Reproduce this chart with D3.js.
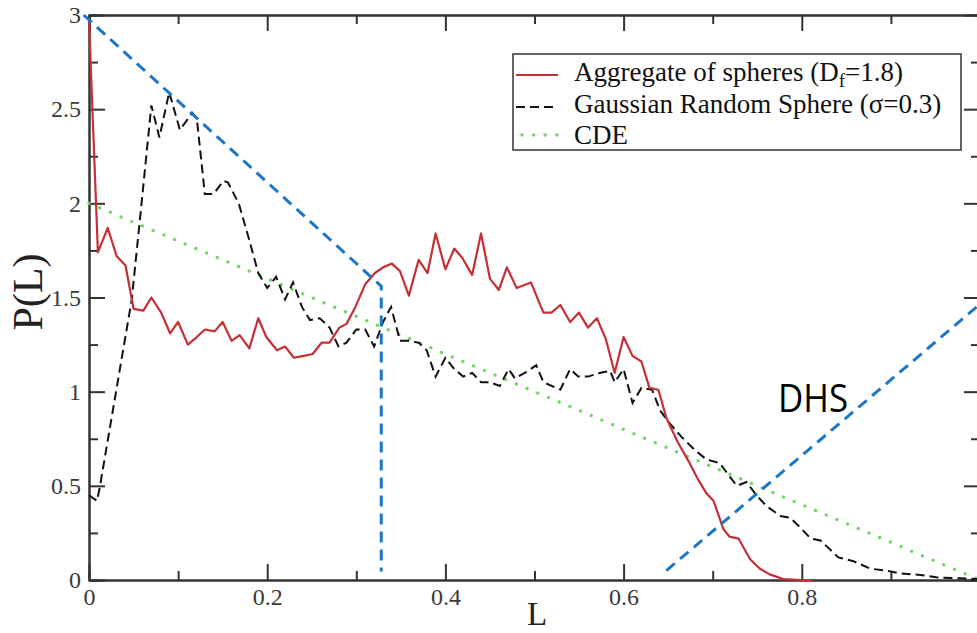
<!DOCTYPE html>
<html>
<head>
<meta charset="utf-8">
<script src="https://cdn.jsdelivr.net/npm/d3@7"></script>
<style>
  body { margin: 0; background: #fff; }
</style>
</head>
<body>
<div id="chart"></div>
<script>
// values: [L, P(L)]
var aggregate = [
  [0.000, 2.97], [0.010, 1.74], [0.021, 1.87], [0.031, 1.72], [0.041, 1.67],
  [0.050, 1.44], [0.061, 1.43], [0.070, 1.50], [0.081, 1.42], [0.091, 1.31],
  [0.100, 1.37], [0.111, 1.25], [0.121, 1.29], [0.130, 1.33], [0.141, 1.32],
  [0.150, 1.37], [0.160, 1.27], [0.169, 1.30], [0.180, 1.23], [0.190, 1.39],
  [0.199, 1.29], [0.211, 1.22], [0.220, 1.24], [0.230, 1.18], [0.241, 1.19],
  [0.251, 1.20], [0.261, 1.26], [0.270, 1.26], [0.281, 1.34], [0.289, 1.36],
  [0.299, 1.45], [0.310, 1.57], [0.321, 1.63], [0.330, 1.66], [0.340, 1.68],
  [0.349, 1.64], [0.359, 1.51], [0.370, 1.70], [0.380, 1.63], [0.389, 1.84],
  [0.400, 1.65], [0.410, 1.76], [0.419, 1.71], [0.430, 1.62], [0.440, 1.84],
  [0.450, 1.60], [0.460, 1.54], [0.469, 1.66], [0.480, 1.55], [0.496, 1.58],
  [0.510, 1.42], [0.519, 1.42], [0.529, 1.46], [0.540, 1.37], [0.550, 1.42],
  [0.560, 1.34], [0.570, 1.39], [0.580, 1.28], [0.590, 1.10], [0.600, 1.29],
  [0.610, 1.19], [0.620, 1.16], [0.629, 1.02], [0.639, 1.01], [0.648, 0.86],
  [0.661, 0.73], [0.673, 0.63], [0.684, 0.53], [0.693, 0.46], [0.701, 0.42],
  [0.712, 0.27], [0.719, 0.23], [0.729, 0.22], [0.742, 0.11], [0.753, 0.06],
  [0.764, 0.03], [0.779, 0.005], [0.800, 0.0], [0.812, 0.0]
];

var gaussian = [
  [0.000, 0.45], [0.009, 0.42], [0.012, 0.49], [0.048, 1.49], [0.059, 2.00],
  [0.070, 2.52], [0.079, 2.35], [0.090, 2.59], [0.102, 2.39], [0.116, 2.48],
  [0.121, 2.45], [0.130, 2.05], [0.140, 2.05], [0.151, 2.12], [0.156, 2.11],
  [0.168, 2.00], [0.179, 1.82], [0.190, 1.63], [0.200, 1.55], [0.210, 1.61],
  [0.220, 1.49], [0.229, 1.58], [0.239, 1.45], [0.248, 1.38], [0.259, 1.39],
  [0.270, 1.34], [0.280, 1.24], [0.289, 1.26], [0.300, 1.33], [0.310, 1.33],
  [0.320, 1.24], [0.330, 1.37], [0.339, 1.45], [0.349, 1.27], [0.358, 1.27],
  [0.370, 1.26], [0.379, 1.22], [0.389, 1.08], [0.400, 1.18], [0.410, 1.12],
  [0.420, 1.08], [0.430, 1.10], [0.440, 1.05], [0.450, 1.05], [0.461, 1.03],
  [0.471, 1.12], [0.478, 1.07], [0.489, 1.10], [0.502, 1.14], [0.510, 1.05],
  [0.529, 1.01], [0.540, 1.12], [0.549, 1.08], [0.560, 1.08], [0.574, 1.10],
  [0.585, 1.11], [0.590, 1.05], [0.600, 1.12], [0.610, 0.94], [0.620, 1.02],
  [0.632, 1.01], [0.641, 0.90], [0.652, 0.83], [0.665, 0.76], [0.680, 0.69],
  [0.693, 0.64], [0.708, 0.62], [0.719, 0.55], [0.727, 0.50], [0.738, 0.52],
  [0.749, 0.45], [0.761, 0.39], [0.776, 0.34], [0.787, 0.33], [0.798, 0.28],
  [0.810, 0.22], [0.821, 0.21], [0.841, 0.12], [0.858, 0.10], [0.877, 0.06],
  [0.895, 0.05], [0.910, 0.035], [0.933, 0.027], [0.951, 0.014], [0.978, 0.009],
  [0.997, 0.005]
];

var cde = [[0.0, 2.0], [0.5, 1.0], [1.0, 0.0]];

// blue hand-drawn guides
var guideLeft = [[-0.006, 3.0], [0.328, 1.56], [0.328, 0.045]];
var guideDHS = [[0.648, 0.05], [1.0, 1.465]];

var xMajor = [0, 0.2, 0.4, 0.6, 0.8, 1.0];
var xMinor = [0.1, 0.3, 0.5, 0.7, 0.9];
var xLabels = ["0", "0.2", "0.4", "0.6", "0.8", ""];
var yMajor = [0, 0.5, 1, 1.5, 2, 2.5, 3];
var yMinor = [0.25, 0.75, 1.25, 1.75, 2.25, 2.75];
var yLabels = ["0", "0.5", "1", "1.5", "2", "2.5", "3"];

var svgWidth = 977;
var svgHeight = 633;
var margin = { top: 15, right: 0, bottom: 53, left: 89 };
var chartWidth = 891;
var chartHeight = svgHeight - margin.top - margin.bottom;

var serif = "'Liberation Serif', 'Times New Roman', serif";

var svg = d3.select("#chart")
  .append("svg")
  .attr("width", svgWidth)
  .attr("height", svgHeight);

var chartGroup = svg.append("g")
  .attr("transform", `translate(${margin.left}, ${margin.top})`);

var xScale = d3.scaleLinear().domain([0, 1]).range([0, chartWidth]);
var yScale = d3.scaleLinear().domain([0, 3]).range([chartHeight, 0]);

var axisColor = "#333";

function styleAxis(g) {
  g.select(".domain").attr("stroke", axisColor).attr("stroke-width", 2);
  g.selectAll(".tick line").attr("stroke", axisColor).attr("stroke-width", 2);
  g.selectAll(".tick text")
    .style("font-family", serif)
    .style("font-size", "24px")
    .attr("fill", "#3a3a3a");
}

// minor ticks
chartGroup.append("g")
  .attr("transform", `translate(0, ${chartHeight})`)
  .call(d3.axisBottom(xScale).tickValues(xMinor).tickSize(-9).tickFormat(""))
  .call(styleAxis);
chartGroup.append("g")
  .call(d3.axisTop(xScale).tickValues(xMinor).tickSize(-9).tickFormat(""))
  .call(styleAxis);
chartGroup.append("g")
  .call(d3.axisLeft(yScale).tickValues(yMinor).tickSize(-9).tickFormat(""))
  .call(styleAxis);
chartGroup.append("g")
  .attr("transform", `translate(${chartWidth}, 0)`)
  .call(d3.axisRight(yScale).tickValues(yMinor).tickSize(-9).tickFormat(""))
  .call(styleAxis);

// major ticks + labels
chartGroup.append("g")
  .attr("transform", `translate(0, ${chartHeight})`)
  .call(d3.axisBottom(xScale).tickValues(xMajor).tickSize(-16).tickSizeOuter(0)
    .tickPadding(8).tickFormat((d, i) => xLabels[i]))
  .call(styleAxis);

chartGroup.append("g")
  .call(d3.axisLeft(yScale).tickValues(yMajor).tickSize(-16).tickSizeOuter(0)
    .tickPadding(8).tickFormat((d, i) => yLabels[i]))
  .call(styleAxis);

chartGroup.append("g")
  .call(d3.axisTop(xScale).tickValues(xMajor).tickSize(-16).tickSizeOuter(0).tickFormat(""))
  .call(styleAxis);
chartGroup.append("g")
  .attr("transform", `translate(${chartWidth}, 0)`)
  .call(d3.axisRight(yScale).tickValues(yMajor).tickSize(-16).tickSizeOuter(0).tickFormat(""))
  .call(styleAxis);

// axis titles
svg.append("text")
  .attr("x", margin.left + xScale(0.503))
  .attr("y", 625)
  .attr("text-anchor", "middle")
  .style("font-family", serif)
  .style("font-size", "33px")
  .attr("fill", "#222")
  .text("L");

svg.append("text")
  .attr("transform", "translate(42, 292) rotate(-90)")
  .attr("text-anchor", "middle")
  .style("font-family", serif)
  .style("font-size", "42px")
  .attr("fill", "#222")
  .text("P(L)");

var line = d3.line()
  .x(d => xScale(d[0]))
  .y(d => yScale(d[1]));

chartGroup.append("path")
  .datum(cde)
  .attr("d", line)
  .attr("fill", "none")
  .attr("stroke", "#72d466")
  .attr("stroke-width", 3.5)
  .attr("stroke-linecap", "round")
  .attr("stroke-dasharray", "0,11.6");

chartGroup.append("path")
  .datum(gaussian)
  .attr("d", line)
  .attr("fill", "none")
  .attr("stroke", "#111")
  .attr("stroke-width", 2)
  .attr("stroke-dasharray", "9,5");

chartGroup.append("path")
  .datum(aggregate)
  .attr("d", line)
  .attr("fill", "none")
  .attr("stroke", "#c62f33")
  .attr("stroke-width", 2.2)
  .attr("stroke-linejoin", "round");

// blue guides
chartGroup.append("path")
  .datum(guideLeft)
  .attr("d", line)
  .attr("fill", "none")
  .attr("stroke", "#1b76c9")
  .attr("stroke-width", 3)
  .attr("stroke-dasharray", "11,7");

chartGroup.append("path")
  .datum(guideDHS)
  .attr("d", line)
  .attr("fill", "none")
  .attr("stroke", "#1b76c9")
  .attr("stroke-width", 3)
  .attr("stroke-dasharray", "11,7");

svg.append("text")
  .attr("x", 778)
  .attr("y", 412)
  .style("font-family", "'Open Sans', 'Liberation Sans', Arial, sans-serif")
  .style("font-size", "39px")
  .attr("textLength", 70)
  .attr("lengthAdjust", "spacingAndGlyphs")
  .attr("fill", "#000")
  .text("DHS");

// legend
var legend = svg.append("g");
legend.append("rect")
  .attr("x", 513).attr("y", 54)
  .attr("width", 448).attr("height", 96)
  .attr("fill", "#fff")
  .attr("stroke", "#333")
  .attr("stroke-width", 1.5);

var legendRows = [
  { y: 75, stroke: "#c62f33", dash: null, width: 2.2 },
  { y: 107, stroke: "#111", dash: "9,5", width: 2 },
  { y: 135, stroke: "#72d466", dash: "0,11.6", width: 3.5 }
];
legendRows.forEach(r => {
  legend.append("line")
    .attr("x1", r.dash === "0,11.6" ? 522 : 516).attr("x2", 558)
    .attr("y1", r.y).attr("y2", r.y)
    .attr("stroke", r.stroke)
    .attr("stroke-width", r.width)
    .attr("stroke-linecap", r.dash === "0,11.6" ? "round" : "butt")
    .attr("stroke-dasharray", r.dash);
});

var t1 = legend.append("text")
  .attr("x", 574).attr("y", 81)
  .style("font-family", serif).style("font-size", "27px").attr("fill", "#111");
t1.append("tspan").text("Aggregate of spheres (D");
t1.append("tspan").style("font-size", "19px").attr("dy", 6).text("f");
t1.append("tspan").attr("dy", -6).text("=1.8)");

legend.append("text")
  .attr("x", 574).attr("y", 113)
  .style("font-family", serif).style("font-size", "27px").attr("fill", "#111")
  .text("Gaussian Random Sphere (σ=0.3)");

legend.append("text")
  .attr("x", 574).attr("y", 144)
  .style("font-family", serif).style("font-size", "27px").attr("fill", "#111")
  .text("CDE");
</script>
</body>
</html>
